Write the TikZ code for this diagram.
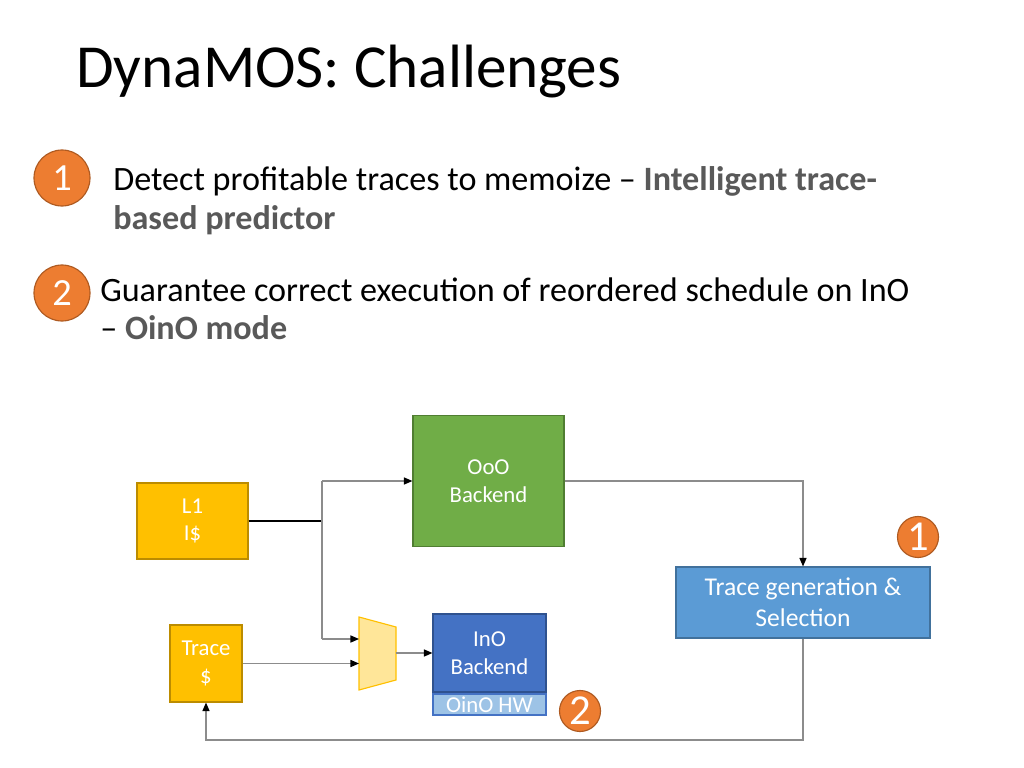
\documentclass[tikz,border=0pt]{standalone}
\usepackage{fontspec}
\setmainfont{Carlito}
\usetikzlibrary{arrows.meta}
\definecolor{orng}{HTML}{ED7D31}
\definecolor{orngb}{HTML}{AE5A21}
\definecolor{yel}{HTML}{FFC000}
\definecolor{yelb}{HTML}{BC8C00}
\definecolor{grn}{HTML}{70AD47}
\definecolor{grnb}{HTML}{507E32}
\definecolor{blu}{HTML}{4472C4}
\definecolor{blub}{HTML}{2F528F}
\definecolor{lblu}{HTML}{9DC3E6}
\definecolor{mblu}{HTML}{5B9BD5}
\definecolor{mblub}{HTML}{41719C}
\definecolor{muxf}{HTML}{FFE699}
\definecolor{tgray}{HTML}{595959}
\definecolor{lgray}{HTML}{8C8C8C}
\newcommand\pxu{0.703125pt}
\begin{document}
\begin{tikzpicture}[x=0.703125pt,y=-0.703125pt,
  box/.style={draw, line width=0.8pt, inner sep=0pt, text=white, align=center,
    font=\fontsize{16}{19.5}\selectfont},
  conn/.style={draw=lgray, line width=0.8pt},
  arr/.style={conn, -{Triangle[length=6pt,width=5pt,color=black]}},
  bigc/.style={circle, fill=orng, draw=orngb, line width=0.8pt, text=white, inner sep=0pt,
    minimum size=56*\pxu, font=\fontsize{27}{27}\selectfont},
  smallc/.style={circle, fill=orng, draw=orngb, line width=0.8pt, text=white, inner sep=0pt,
    minimum size=41*\pxu, font=\fontsize{30}{30}\selectfont},
  body/.style={anchor=base west, inner sep=0pt, font=\fontsize{24}{29}\selectfont}]
\useasboundingbox (0,0) rectangle (1024,768);

% title
\node[anchor=base west, inner sep=0pt, font=\fontsize{43}{52}\selectfont] (title) at (76,88) {DynaMOS: Challenges};

% items
\node[bigc] (c1) at (62,178) {1};
\node[body] (t1a) at (113,191) {Detect profitable traces to memoize -- \textcolor{tgray}{\bfseries Intelligent trace-}};
\node[body] (t1b) at (113,230) {\textcolor{tgray}{\bfseries based predictor}};
\node[bigc] (c2) at (62,293) {2};
\node[body] (t2a) at (100,301) {Guarantee correct execution of reordered schedule on InO};
\node[body] (t2b) at (100,339) {-- \textcolor{tgray}{\bfseries OinO mode}};

% diagram boxes
\node[box, fill=yel, draw=yelb, minimum width=111*\pxu, minimum height=76*\pxu] (l1) at (192.5,521) {L1\\I\$};
\node[box, fill=grn, draw=grnb, minimum width=151*\pxu, minimum height=131*\pxu, text depth=0pt] (ooo) at (488.5,481) {OoO\\Backend};
\node[box, fill=yel, draw=yelb, minimum width=72*\pxu, minimum height=77*\pxu] (tc) at (206,663.5) {Trace\\\$};
\node[box, fill=blu, draw=blub, minimum width=113*\pxu, minimum height=78*\pxu] (ino) at (489.5,653) {InO\\Backend};
\node[box, fill=lblu, draw=blu, minimum width=113*\pxu, minimum height=21*\pxu] (oino) at (489.5,704.5) {OinO HW};
\node[box, fill=mblu, draw=mblub, minimum width=254*\pxu, minimum height=71*\pxu,
  font=\fontsize{18}{21.5}\selectfont] (tg) at (803,602.5) {Trace generation \&\\Selection};

% mux
\draw[fill=muxf, draw=yel, line width=0.8pt] (359,617) -- (396,627) -- (396,680) -- (359,690) -- cycle;
\coordinate (mi1) at (359,639);
\coordinate (mi2) at (359,663.5);
\coordinate (mo) at (396,653);

% badges
\node[smallc] (b1) at (918,537) {1};
\node[smallc] (b2) at (580,711) {2};

% connectors
\coordinate (j) at (322,521);
\coordinate (jt) at (322,481);
\coordinate (jb) at (322,639);
\draw[line width=0.8pt, draw=black] (l1.east) -- (j);
\draw[conn] (jt) -- (jb);
\draw[arr] (jt) -- (ooo.west);
\draw[arr] (jb) -- (mi1);
\draw[arr] (tc.east) -- (mi2);
\draw[arr] (mo) -- (mo -| ino.west);
\draw[arr] (ooo.east) -| (tg.north);
\coordinate (lb) at (803,740);
\draw[arr] (tg.south) -- (lb) -| (tc.south);
\end{tikzpicture}
\end{document}
